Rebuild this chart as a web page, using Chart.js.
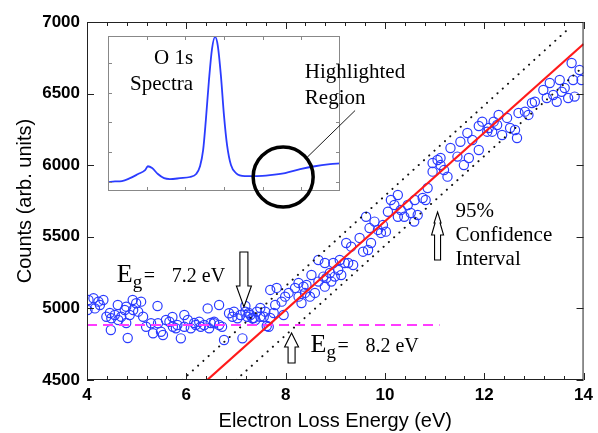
<!DOCTYPE html>
<html>
<head>
<meta charset="utf-8">
<script src="https://cdn.jsdelivr.net/npm/chart.js@4"></script>
<style>
  html, body { margin: 0; padding: 0; background: #fff; }
  #wrap { position: relative; width: 598px; height: 433px; }
  #wrap canvas { position: absolute; left: 0; top: 0; }
</style>
</head>
<body>
<div id="wrap">
  <canvas id="mainChart" width="598" height="433"></canvas>
  <canvas id="insetChart" width="598" height="433"></canvas>
</div>
<script>
    // Tick labels
    const xTickLabels = [4, 6, 8, 10, 12, 14];
    const yTickLabels = [4500, 5000, 5500, 6000, 6500, 7000];

    // Measured counts (open circles)
    const energyEV = [
        4.01, 4.03, 4.13, 4.16, 4.23, 4.26, 4.33, 4.39, 4.46, 4.48, 4.49, 4.56, 4.62, 4.63, 4.69, 4.76,
        4.79, 4.79, 4.82, 4.86, 4.92, 4.93, 4.99, 5.03, 5.09, 5.13, 5.19, 5.29, 5.33, 5.42, 5.43, 5.49,
        5.53, 5.59, 5.66, 5.72, 5.73, 5.79, 5.82, 5.89, 5.96, 5.96, 6.03, 6.09, 6.16, 6.19, 6.26, 6.29,
        6.36, 6.43, 6.46, 6.49, 6.56, 6.56, 6.66, 6.66, 6.72, 6.76, 6.86, 6.93, 6.96, 7.03, 7.09, 7.13,
        7.19, 7.19, 7.23, 7.26, 7.29, 7.33, 7.36, 7.39, 7.42, 7.49, 7.49, 7.56, 7.59, 7.62, 7.66, 7.69,
        7.69, 7.76, 7.79, 7.82, 7.92, 7.96, 7.99, 8.06, 8.19, 8.26, 8.26, 8.32, 8.36, 8.39, 8.42, 8.49,
        8.52, 8.59, 8.66, 8.66, 8.76, 8.79, 8.79, 8.82, 8.89, 8.92, 8.96, 8.99, 9.06, 9.09, 9.12, 9.19,
        9.22, 9.26, 9.32, 9.36, 9.49, 9.56, 9.62, 9.66, 9.69, 9.72, 9.79, 9.86, 9.92, 9.96, 10.02, 10.06,
        10.12, 10.19, 10.26, 10.26, 10.32, 10.39, 10.46, 10.52, 10.59, 10.6, 10.66, 10.76, 10.82, 10.86,
        10.96, 10.96, 11.06, 11.12, 11.12, 11.19, 11.26, 11.32, 11.46, 11.52, 11.59, 11.66, 11.69, 11.76,
        11.89, 11.89, 11.96, 12.06, 12.09, 12.16, 12.19, 12.26, 12.29, 12.36, 12.46, 12.52, 12.62, 12.66,
        12.69, 12.82, 12.89, 12.96, 13.02, 13.19, 13.26, 13.32, 13.39, 13.46, 13.52, 13.56, 13.62, 13.69,
        13.76, 13.79, 13.82, 13.92, 13.96
    ];
    const countsArb = [
        4989, 5059, 5071, 5000, 5047, 5024, 5059, 4942, 4968, 4849, 4931, 4954, 5024, 4919, 4942, 4989,
        5012, 4898, 4793, 4954, 5059, 4989, 5036, 4977, 5047, 4942, 4872, 4896, 4826, 5017, 4896, 4837,
        4814, 4919, 4907, 4940, 4872, 4861, 4884, 4791, 4872, 4954, 4919, 4861, 4898, 4884, 4907, 4872,
        4884, 5000, 4861, 4898, 4896, 4907, 5024, 4884, 4872, 4779, 4966, 4942, 4977, 4931, 4954, 4791,
        4977, 5017, 4942, 4968, 4954, 4931, 4933, 4919, 4977, 4942, 5003, 4942, 4977, 4877, 4872, 4933,
        5129, 4968, 5024, 5143, 5047, 4954, 5082, 5108, 5143, 5178, 5082, 5038, 5152, 5108, 5164, 5082,
        5233, 5108, 5187, 5338, 5222, 5317, 5152, 5212, 5247, 5187, 5317, 5222, 5268, 5338, 5233, 5317,
        5457, 5317, 5431, 5303, 5492, 5396, 5640, 5408, 5561, 5457, 5606, 5548, 5527, 5582, 5536, 5675,
        5757, 5722, 5792, 5640, 5687, 5640, 5722, 5666, 5606, 5757, 5652, 5771, 5757, 5841,
        6015, 5955, 6036, 6001, 6050, 5966, 5920, 6120, 6060, 6164, 6001, 6225, 6050, 6176,
        6106, 6274, 6304, 6234, 6260, 6234, 6304, 6281, 6351, 6211, 6330, 6260, 6246, 6190,
        6365, 6374, 6351, 6434, 6443, 6525, 6469, 6574, 6490, 6443, 6595, 6513, 6539, 6469,
        6714, 6595, 6479, 6665, 6595
    ];

    // Linear fit and 95% confidence bounds
    const fitEV = [6.42, 14];
    const fitCounts = [4500, 6846];
    const upperEV = [5.92, 13.72];
    const upperCounts = [4500, 6960];
    const lowerEV = [7.0, 14];
    const lowerCounts = [4500, 6690];

    // Background level (dashed)
    const baseEV = [4, 11.1];
    const baseCounts = [4884, 4884];

    // Inset: O 1s spectrum, arbitrary units
    const insetX = [0, 0.18, 0.36, 0.57, 0.78, 0.96, 1.03, 1.14, 1.29, 1.45, 1.6, 1.86, 2.12, 2.28, 2.38,
        2.46, 2.53, 2.61, 2.69, 2.77, 2.84, 2.92, 3.0, 3.08, 3.18, 3.31, 3.54, 3.85, 4.19, 4.58, 4.97,
        5.35, 5.74, 6.0];
    const insetY = [0, 0.02, 0.03, 0.13, 0.27, 0.4, 0.53, 0.47, 0.27, 0.13, 0.1, 0.13, 0.17, 0.27, 0.53,
        1.07, 2.07, 3.4, 4.47, 4.87, 4.57, 3.57, 2.23, 1.23, 0.57, 0.3, 0.2, 0.2, 0.23, 0.3, 0.43,
        0.53, 0.6, 0.63];
    const insetXTicks = [1, 2, 3, 4, 5];
    const insetYTicks = [0, 1, 2, 3, 4];

    const SANS = "'Liberation Sans', Arial, sans-serif";
    const SERIF = "'Liberation Serif', 'Times New Roman', serif";
    const BLUE = '#2b3cff';

    let mainChart;
    let insetChart;

    function toPoints(xs, ys) {
        return xs.map((x, i) => ({ x: x, y: ys[i] }));
    }

    // Annotation placement (data coordinates of the main chart)
    const egLabels = [
        { x: 4.6, y: 5184, value: '7.2 eV' },
        { x: 8.5, y: 4696, value: '8.2 eV' }
    ];
    const confidenceText = { x: 11.42, y: 5638, lines: ['95%', 'Confidence', 'Interval'] };

    // Hollow arrow outlines in px, tip at origin, pointing up
    const arrowShort = [[0, 0], [7, 14], [3.5, 14], [3.5, 30], [-3.5, 30], [-3.5, 14], [-7, 14]];
    const arrowLong = [[0, 0], [7.5, 21], [4, 21], [4, 55], [-4, 55], [-4, 21], [-7.5, 21]];
    const arrowTree = [[0, 0], [3.5, 11], [2.5, 11], [6, 23], [3, 23], [3, 48], [-3, 48], [-3, 23],
        [-6, 23], [-2.5, 11], [-3.5, 11]];
    const hollowArrows = [
        { x: 7.16, y: 5010, shape: arrowLong, flip: true },
        { x: 8.12, y: 4828, shape: arrowShort, flip: false },
        { x: 11.06, y: 5673, shape: arrowTree, flip: false }
    ];

    function drawArrow(ctx, px, py, shape, flip) {
        ctx.beginPath();
        shape.forEach((p, i) => {
            const x = px + p[0];
            const y = flip ? py - p[1] : py + p[1];
            if (i === 0) ctx.moveTo(x, y); else ctx.lineTo(x, y);
        });
        ctx.closePath();
        ctx.fillStyle = '#fff';
        ctx.fill();
        ctx.strokeStyle = '#000';
        ctx.lineWidth = 1.1;
        ctx.stroke();
    }

    // Frame with inward ticks on all four sides
    const frameTicks = {
        id: 'frameTicks',
        afterDraw(chart) {
            const ctx = chart.ctx;
            const a = chart.chartArea;
            const xs = chart.scales.x;
            const ys = chart.scales.y;
            ctx.save();
            ctx.strokeStyle = '#222';
            ctx.lineWidth = 1;
            ctx.strokeRect(a.left + 0.5, a.top + 0.5, a.right - a.left - 1, a.bottom - a.top - 1);
            ctx.beginPath();
            for (let i = 0; i < xTickLabels.length; i++) {
                const px = Math.round(xs.getPixelForValue(xTickLabels[i])) + 0.5;
                ctx.moveTo(px, a.bottom); ctx.lineTo(px, a.bottom - 7);
                ctx.moveTo(px, a.top); ctx.lineTo(px, a.top + 7);
                if (i < xTickLabels.length - 1) {
                    for (let k = 1; k < 5; k++) {
                        const v = xTickLabels[i] + (xTickLabels[i + 1] - xTickLabels[i]) * k / 5;
                        const mx = Math.round(xs.getPixelForValue(v)) + 0.5;
                        ctx.moveTo(mx, a.bottom); ctx.lineTo(mx, a.bottom - 4);
                        ctx.moveTo(mx, a.top); ctx.lineTo(mx, a.top + 4);
                    }
                }
            }
            yTickLabels.forEach(v => {
                const py = Math.round(ys.getPixelForValue(v)) + 0.5;
                ctx.moveTo(a.left, py); ctx.lineTo(a.left + 7, py);
                ctx.moveTo(a.right, py); ctx.lineTo(a.right - 7, py);
            });
            ctx.stroke();
            ctx.restore();
        }
    };

    // Text labels and arrows
    const mainNotes = {
        id: 'mainNotes',
        afterDraw(chart) {
            const ctx = chart.ctx;
            const xs = chart.scales.x;
            const ys = chart.scales.y;
            ctx.save();
            ctx.fillStyle = '#000';
            ctx.textBaseline = 'alphabetic';
            ctx.textAlign = 'left';

            egLabels.forEach(l => {
                const px = xs.getPixelForValue(l.x);
                const py = ys.getPixelForValue(l.y);
                ctx.fillStyle = '#000';
                ctx.font = '26px ' + SERIF;
                ctx.fillText('E', px, py);
                ctx.font = '19px ' + SERIF;
                ctx.fillText('g', px + 16, py + 6);
                ctx.font = '20px ' + SERIF;
                ctx.fillText('=', px + 27, py);
                ctx.fillText(l.value, px + 55, py);
            });

            ctx.font = '21px ' + SERIF;
            const cx = xs.getPixelForValue(confidenceText.x);
            const cy = ys.getPixelForValue(confidenceText.y);
            confidenceText.lines.forEach((t, i) => ctx.fillText(t, cx, cy + i * 24));

            hollowArrows.forEach(a => {
                drawArrow(ctx, xs.getPixelForValue(a.x), ys.getPixelForValue(a.y), a.shape, a.flip);
            });
            ctx.restore();
        }
    };

    // Inset box, ticks, labels and highlight circle
    const insetDecor = {
        id: 'insetDecor',
        beforeDatasetsDraw(chart) {
            const a = chart.chartArea;
            chart.ctx.save();
            chart.ctx.fillStyle = '#fff';
            chart.ctx.fillRect(a.left, a.top, a.right - a.left, a.bottom - a.top);
            chart.ctx.restore();
        },
        afterDraw(chart) {
            const ctx = chart.ctx;
            const a = chart.chartArea;
            const xs = chart.scales.x;
            const ys = chart.scales.y;
            ctx.save();
            ctx.strokeStyle = '#888';
            ctx.lineWidth = 1;
            ctx.strokeRect(a.left + 0.5, a.top + 0.5, a.right - a.left - 1, a.bottom - a.top - 1);
            ctx.beginPath();
            insetXTicks.forEach(v => {
                const px = Math.round(xs.getPixelForValue(v)) + 0.5;
                ctx.moveTo(px, a.bottom); ctx.lineTo(px, a.bottom - 4);
                ctx.moveTo(px, a.top); ctx.lineTo(px, a.top + 4);
            });
            insetYTicks.forEach(v => {
                const py = Math.round(ys.getPixelForValue(v)) + 0.5;
                ctx.moveTo(a.left, py); ctx.lineTo(a.left + 4, py);
                ctx.moveTo(a.right, py); ctx.lineTo(a.right - 4, py);
            });
            ctx.stroke();

            // O 1s / Spectra labels
            ctx.fillStyle = '#000';
            ctx.font = '21px ' + SERIF;
            ctx.textAlign = 'right';
            ctx.fillText('O 1s', xs.getPixelForValue(2.2), ys.getPixelForValue(3.97));
            ctx.fillText('Spectra', xs.getPixelForValue(2.2), ys.getPixelForValue(3.1));

            // Highlighted region
            ctx.textAlign = 'left';
            ctx.fillText('Highlighted', xs.getPixelForValue(5.09), ys.getPixelForValue(3.5));
            ctx.fillText('Region', xs.getPixelForValue(5.09), ys.getPixelForValue(2.63));

            ctx.strokeStyle = '#000';
            ctx.lineWidth = 0.9;
            ctx.beginPath();
            ctx.moveTo(xs.getPixelForValue(5.15), ys.getPixelForValue(0.83));
            ctx.lineTo(xs.getPixelForValue(6.39), ys.getPixelForValue(2.4));
            ctx.stroke();

            ctx.lineWidth = 3.5;
            ctx.beginPath();
            ctx.arc(xs.getPixelForValue(4.53), ys.getPixelForValue(0.17), 30, 0, Math.PI * 2);
            ctx.stroke();
            ctx.restore();
        }
    };

    function lineSet(xs, ys, color, width, dash, cap) {
        return {
            data: toPoints(xs, ys),
            showLine: true,
            fill: false,
            borderColor: color,
            borderWidth: width,
            borderDash: dash,
            borderCapStyle: cap,
            pointRadius: 0,
            pointHoverRadius: 0
        };
    }

    function initializeMainChart() {
        const ctx = document.getElementById('mainChart').getContext('2d');
        mainChart = new Chart(ctx, {
            type: 'scatter',
            data: {
                datasets: [
                    lineSet(fitEV, fitCounts, '#ff1a1a', 2.2, [], 'butt'),
                    lineSet(upperEV, upperCounts, '#111', 2, [0.1, 7], 'round'),
                    lineSet(lowerEV, lowerCounts, '#111', 2, [0.1, 7], 'round'),
                    lineSet(baseEV, baseCounts, '#ff3cff', 2, [10, 6], 'butt'),
                    {
                        data: toPoints(energyEV, countsArb),
                        pointStyle: 'circle',
                        pointRadius: 4.6,
                        pointHoverRadius: 4.6,
                        pointBorderWidth: 1.2,
                        borderColor: BLUE,
                        backgroundColor: 'rgba(0,0,0,0)'
                    }
                ]
            },
            options: {
                responsive: false,
                animation: false,
                devicePixelRatio: 1,
                layout: { padding: { top: 22, right: 13, left: 0, bottom: 0 } },
                plugins: {
                    legend: { display: false },
                    tooltip: { enabled: false }
                },
                scales: {
                    x: {
                        type: 'linear',
                        min: 4,
                        max: 14,
                        grid: { display: false, drawTicks: false },
                        border: { display: false },
                        afterBuildTicks: s => { s.ticks = xTickLabels.map(v => ({ value: v })); },
                        afterFit: s => { s.height = 53; },
                        ticks: {
                            color: '#000',
                            padding: 5,
                            maxRotation: 0,
                            callback: v => String(v),
                            font: { family: SANS, size: 17, weight: 'bold' }
                        },
                        title: {
                            display: true,
                            text: 'Electron Loss Energy (eV)',
                            color: '#000',
                            font: { family: SANS, size: 20 },
                            padding: { top: 4, bottom: 0 }
                        }
                    },
                    y: {
                        type: 'linear',
                        min: 4500,
                        max: 7000,
                        grid: { display: false, drawTicks: false },
                        border: { display: false },
                        afterBuildTicks: s => { s.ticks = yTickLabels.map(v => ({ value: v })); },
                        afterFit: s => { s.width = 87; },
                        ticks: {
                            color: '#000',
                            padding: 7,
                            callback: v => String(v),
                            font: { family: SANS, size: 17, weight: 'bold' }
                        },
                        title: {
                            display: true,
                            text: 'Counts (arb. units)',
                            color: '#000',
                            font: { family: SANS, size: 20 },
                            padding: { top: 13, bottom: 0 }
                        }
                    }
                }
            },
            plugins: [frameTicks, mainNotes]
        });
    }

    function initializeInsetChart() {
        const ctx = document.getElementById('insetChart').getContext('2d');
        insetChart = new Chart(ctx, {
            type: 'scatter',
            data: {
                datasets: [{
                    data: toPoints(insetX, insetY),
                    showLine: true,
                    fill: false,
                    borderColor: BLUE,
                    borderWidth: 1.8,
                    cubicInterpolationMode: 'monotone',
                    pointRadius: 0,
                    pointHoverRadius: 0
                }]
            },
            options: {
                responsive: false,
                animation: false,
                devicePixelRatio: 1,
                events: [],
                layout: { padding: { left: 108, top: 36, right: 258, bottom: 242 } },
                plugins: {
                    legend: { display: false },
                    tooltip: { enabled: false }
                },
                scales: {
                    x: { type: 'linear', min: 0, max: 6, display: false },
                    y: { type: 'linear', min: -0.3, max: 4.9, display: false }
                }
            },
            plugins: [insetDecor]
        });
    }

    initializeMainChart();
    initializeInsetChart();
</script>
</body>
</html>
